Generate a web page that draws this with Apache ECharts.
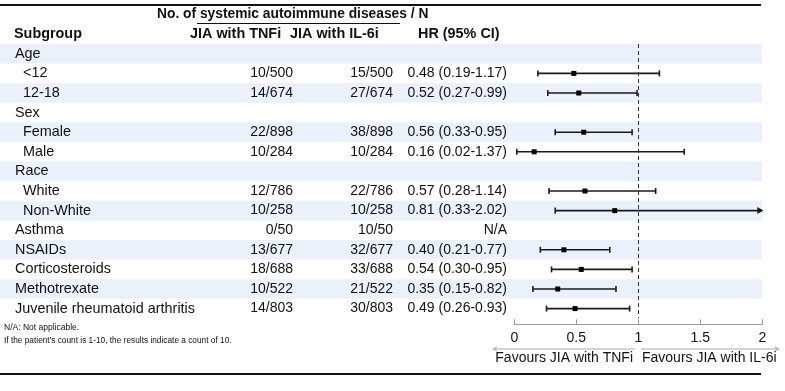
<!DOCTYPE html>
<html>
<head>
<meta charset="utf-8">
<script src="https://cdn.jsdelivr.net/npm/echarts@6/dist/echarts.min.js"></script>
<style>html,body{margin:0;padding:0;background:#fff}#c{width:785px;height:391px}</style>
</head>
<body>
<div id="c"></div>
<script>
// ---- data ----
const rows = ['Age','<12','12-18','Sex','Female','Male','Race','White','Non-White','Asthma','NSAIDs','Corticosteroids','Methotrexate','Juvenile rheumatoid arthritis'];
const indent = [0,1,1,0,1,1,0,1,1,0,0,0,0,0];
const tnfi = ['','10/500','14/674','','22/898','10/284','','12/786','10/258','0/50','13/677','18/688','10/522','14/803'];
const il6i = ['','15/500','27/674','','38/898','10/284','','22/786','10/258','10/50','32/677','33/688','21/522','30/803'];
const hr     = [null,0.48,0.52,null,0.56,0.16,null,0.57,0.81,null,0.40,0.54,0.35,0.49];
const ciLow  = [null,0.19,0.27,null,0.33,0.02,null,0.28,0.33,null,0.21,0.30,0.15,0.26];
const ciHigh = [null,1.17,0.99,null,0.95,1.37,null,1.14,2.02,null,0.77,0.95,0.82,0.93];
const naRows = [9];
const xTicks = {min:0, max:2, interval:0.5};
const refLine = 1;

const FONT = '"Liberation Sans", Arial, sans-serif';
const TXT = '#111';

function hrText(i){
  if (naRows.indexOf(i) >= 0) return 'N/A';
  if (hr[i] == null) return '';
  return hr[i].toFixed(2) + ' (' + ciLow[i].toFixed(2) + '-' + ciHigh[i].toFixed(2) + ')';
}

const chart = echarts.init(document.getElementById('c'), null, {renderer:'canvas'});
const gridTop = 44, gridBottom = 391 - (44 + 14*19.6);

const option = {
  animation:false,
  grid:[
    {left:0, right:23, top:gridTop, bottom:gridBottom},
    {left:514.3, right:22.7, top:gridTop, bottom:gridBottom}
  ],
  xAxis:[
    {gridIndex:0, type:'value', min:0, max:1, show:false},
    {gridIndex:1, type:'value', min:xTicks.min, max:xTicks.max, interval:xTicks.interval, offset:6,
     axisLine:{show:true, lineStyle:{color:'#9a9a9a', width:1}},
     axisTick:{show:true, inside:true, length:5, lineStyle:{color:'#9a9a9a'}},
     axisLabel:{fontSize:14, color:TXT, fontFamily:FONT, margin:7},
     splitLine:{show:false}}
  ],
  yAxis:[
    {gridIndex:0, type:'category', data:rows, inverse:true, show:false},
    {gridIndex:1, type:'category', data:rows, inverse:true, show:false}
  ],
  series:[
    { // alternating bands
      type:'custom', xAxisIndex:0, yAxisIndex:0, z:0, silent:true,
      data: rows.map((r,i)=>[0,i]),
      renderItem(params, api){
        const i = api.value(1);
        if (i % 2 !== 0) return null;
        const y = api.coord([0,i])[1];
        const h = api.size([0,1])[1];
        const cs = params.coordSys;
        return {type:'rect', shape:{x:cs.x, y:y-h/2, width:cs.width, height:h}, style:{fill:'#EAF1FB'}};
      }
    },
    { // table text
      type:'custom', xAxisIndex:0, yAxisIndex:0, z:3, silent:true,
      data: rows.map((r,i)=>[0,i]),
      renderItem(params, api){
        const i = api.value(1);
        const y = api.coord([0,i])[1];
        const base = {fontSize:14, fontFamily:FONT, fill:TXT, verticalAlign:'middle'};
        return {type:'group', children:[
          {type:'text', style:Object.assign({}, base, {fontSize:14.4, x: indent[i] ? 23 : 15, y:y, text:rows[i], align:'left'})},
          {type:'text', style:Object.assign({}, base, {x:293, y:y, text:tnfi[i], align:'right'})},
          {type:'text', style:Object.assign({}, base, {x:393, y:y, text:il6i[i], align:'right'})},
          {type:'text', style:Object.assign({}, base, {x:507, y:y, text:hrText(i), align:'right'})}
        ]};
      }
    },
    { // forest CI + point
      type:'custom', xAxisIndex:1, yAxisIndex:1, z:4, silent:true,
      data: rows.map((r,i)=>[i, hr[i], ciLow[i], ciHigh[i]]).filter(d=>d[1]!=null),
      renderItem(params, api){
        const i = api.value(0);
        const p = api.coord([api.value(1), i]);
        const lo = api.coord([api.value(2), i]);
        const hiVal = api.value(3);
        const clipped = hiVal > xTicks.max;
        const hi = api.coord([Math.min(hiVal, xTicks.max), i]);
        const y = p[1];
        const col = '#1a1a1a';
        const ls = {stroke:col, lineWidth:1.6};
        const ch = [
          {type:'line', shape:{x1:lo[0], y1:y, x2:hi[0], y2:y}, style:ls},
          {type:'line', shape:{x1:lo[0], y1:y-3, x2:lo[0], y2:y+3}, style:ls},
          {type:'rect', shape:{x:p[0]-2.5, y:y-2.5, width:5, height:5}, style:{fill:'#000'}}
        ];
        if (clipped) {
          ch.push({type:'polygon', shape:{points:[[hi[0]+1,y],[hi[0]-5,y-3.5],[hi[0]-5,y+3.5]]}, style:{fill:col}});
        } else {
          ch.push({type:'line', shape:{x1:hi[0], y1:y-3, x2:hi[0], y2:y+3}, style:ls});
        }
        return {type:'group', children:ch};
      },
      markLine:{
        silent:true, symbol:['none','none'], label:{show:false},
        lineStyle:{type:[4,3], color:'#333', width:1},
        data:[{xAxis:refLine}]
      }
    }
  ],
  graphic:[
    {type:'line', shape:{x1:0,y1:5,x2:761,y2:5}, style:{stroke:'#111', lineWidth:2}},
    {type:'line', shape:{x1:0,y1:45,x2:761,y2:45}, style:{stroke:'#111', lineWidth:1.5}},
    {type:'line', shape:{x1:0,y1:374,x2:761,y2:374}, style:{stroke:'#111', lineWidth:2}},
    {type:'line', shape:{x1:197,y1:23.5,x2:400,y2:23.5}, style:{stroke:'#111', lineWidth:1}},
    {type:'text', style:{x:157, y:14, text:'No. of systemic autoimmune diseases / N', font:'bold 13.8px '+FONT, fill:TXT, verticalAlign:'middle'}},
    {type:'text', style:{x:14, y:34, text:'Subgroup', font:'bold 14.4px '+FONT, fill:TXT, verticalAlign:'middle'}},
    {type:'text', style:{x:190, y:34, text:'JIA with TNFi', font:'bold 14.4px '+FONT, fill:TXT, verticalAlign:'middle'}},
    {type:'text', style:{x:290, y:34, text:'JIA with IL-6i', font:'bold 14.4px '+FONT, fill:TXT, verticalAlign:'middle'}},
    {type:'text', style:{x:418, y:34, text:'HR (95% CI)', font:'bold 14.4px '+FONT, fill:TXT, verticalAlign:'middle'}},
    {type:'text', style:{x:4, y:328, text:'N/A: Not applicable.', font:'8.5px '+FONT, fill:TXT, verticalAlign:'middle'}},
    {type:'text', style:{x:4, y:341, text:"If the patient's count is 1-10, the results indicate a count of 10.", font:'8.3px '+FONT, fill:TXT, verticalAlign:'middle'}},
    // favours arrows
    {type:'line', shape:{x1:493,y1:349,x2:635,y2:349}, style:{stroke:'#aaa', lineWidth:1}},
    {type:'polyline', shape:{points:[[497,347],[493,349],[497,351]]}, style:{stroke:'#aaa', lineWidth:1, fill:null}},
    {type:'line', shape:{x1:641,y1:349,x2:779,y2:349}, style:{stroke:'#aaa', lineWidth:1}},
    {type:'polyline', shape:{points:[[775,347],[779,349],[775,351]]}, style:{stroke:'#aaa', lineWidth:1, fill:null}},
    {type:'text', style:{x:633, y:358, text:'Favours JIA with TNFi', font:'14px '+FONT, fill:TXT, align:'right', verticalAlign:'middle'}},
    {type:'text', style:{x:642, y:358, text:'Favours JIA with IL-6i', font:'14px '+FONT, fill:TXT, align:'left', verticalAlign:'middle'}}
  ]
};
chart.setOption(option);
</script>
</body>
</html>
